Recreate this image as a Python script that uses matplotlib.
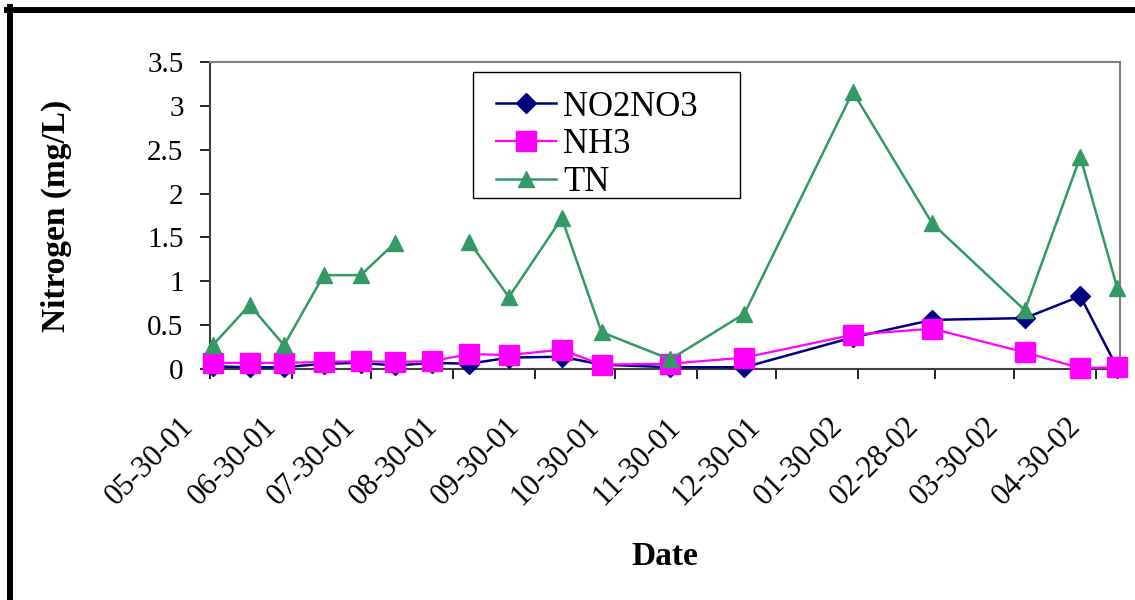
import numpy as np
import matplotlib
matplotlib.use('Agg')
import matplotlib.pyplot as plt
from matplotlib.lines import Line2D
from matplotlib.patches import Rectangle
from matplotlib.transforms import ScaledTranslation

plt.rcParams['font.family'] = ['Liberation Serif', 'DejaVu Serif']

# sampling dates and values (mg/L)
datas = np.array(['2001-05-31', '2001-06-14', '2001-06-27', '2001-07-12', '2001-07-26',
                  '2001-08-08', '2001-08-22', '2001-09-05', '2001-09-20', '2001-10-10',
                  '2001-10-25', '2001-11-20', '2001-12-18', '2002-01-28', '2002-02-27',
                  '2002-04-03', '2002-04-24', '2002-05-08'], dtype='datetime64[D]')

no2no3 = [0.03, 0.02, 0.02, 0.06, 0.07, 0.04, 0.07, 0.06, 0.13, 0.14,
          0.05, 0.02, 0.02, 0.36, 0.56, 0.58, 0.83, 0.01]
nh3 = [0.07, 0.07, 0.07, 0.08, 0.09, 0.08, 0.09, 0.17, 0.16, 0.22,
       0.05, 0.06, 0.13, 0.39, 0.46, 0.19, 0.01, 0.02]
tn = [0.27, 0.73, 0.27, 1.07, 1.07, 1.44, np.nan, 1.45, 0.82, 1.72,
      0.42, 0.11, 0.63, 3.16, 1.66, 0.67, 2.42, 0.92]

datas_ticks = np.array(['2001-05-30', '2001-06-30', '2001-07-30', '2001-08-30', '2001-09-30',
                        '2001-10-30', '2001-11-30', '2001-12-30', '2002-01-30', '2002-02-28',
                        '2002-03-30', '2002-04-30'], dtype='datetime64[D]')
rotulos_ticks = ['05-30-01', '06-30-01', '07-30-01', '08-30-01', '09-30-01', '10-30-01',
                 '11-30-01', '12-30-01', '01-30-02', '02-28-02', '03-30-02', '04-30-02']

x = datas.astype(object)

fig = plt.figure(figsize=(11.35, 6), dpi=100)
ax = fig.add_axes([210 / 1135, 1 - 369 / 600, 910 / 1135, 307 / 600])

ax.plot(x, no2no3, color='#000080', lw=1.8, marker='D', ms=10, mec='#000080',
        label='NO2NO3', clip_on=False, zorder=3)
ax.plot(x, nh3, color='#FF00FF', lw=1.6, marker='s', ms=14, mec='#FF00FF',
        label='NH3', clip_on=False, zorder=4)
ax.plot(x, tn, color='#339966', lw=1.8, marker='^', ms=12, mec='#339966',
        label='TN', clip_on=False, zorder=5)

ax.set_xlim(np.datetime64('2001-05-30').astype(object), np.datetime64('2002-05-09').astype(object))
ax.set_ylim(0, 3.5)
ax.set_yticks(np.arange(0, 3.51, 0.5))
ax.set_yticklabels(['%g' % v for v in np.arange(0, 3.51, 0.5)])
ax.set_xticks(datas_ticks.astype(object))
ax.set_xticklabels(rotulos_ticks, rotation=45, ha='right', va='top')

ax.tick_params(axis='y', direction='out', length=7, width=1.2, pad=12, labelsize=21)
ax.tick_params(axis='x', direction='out', length=7, width=1.2, pad=24, labelsize=22)
for lbl in ax.get_xticklabels():
    lbl.set_transform(lbl.get_transform() + ScaledTranslation(-0.1, 0, fig.dpi_scale_trans))

for lado in ['top', 'right']:
    ax.spines[lado].set_color('#808080')
    ax.spines[lado].set_linewidth(1.5)
for lado in ['left', 'bottom']:
    ax.spines[lado].set_color('#404040')
    ax.spines[lado].set_linewidth(1.5)

ax.set_ylabel('Nitrogen (mg/L)', fontsize=24, fontweight='bold')
ax.yaxis.set_label_coords(-0.152, 0.5)
ax.set_xlabel('Date', fontsize=24, fontweight='bold')
ax.xaxis.set_label_coords(0.5, -0.56)

# legenda sem moldura + retangulo desenhado a parte
leg = ax.legend(loc='upper left', bbox_to_anchor=(0.2967, 0.958), borderaxespad=0,
                fontsize=25, frameon=False, handlelength=1.75,
                handletextpad=0.2, labelspacing=0.14, borderpad=0.45)
ax.add_patch(Rectangle((0.289, 0.557), 0.293, 0.41, transform=ax.transAxes,
                       facecolor='white', edgecolor='black', lw=1.0, zorder=6))
leg.set_zorder(7)

# moldura grossa do grafico
fig.add_artist(Line2D([9.5 / 1135, 9.5 / 1135], [0, 1 - 6.5 / 600], transform=fig.transFigure,
                      color='black', lw=4.3))
fig.add_artist(Line2D([6.5 / 1135, 1], [1 - 9.5 / 600, 1 - 9.5 / 600], transform=fig.transFigure,
                      color='black', lw=4.3))

fig.savefig('out.png', dpi=100, facecolor='white')
